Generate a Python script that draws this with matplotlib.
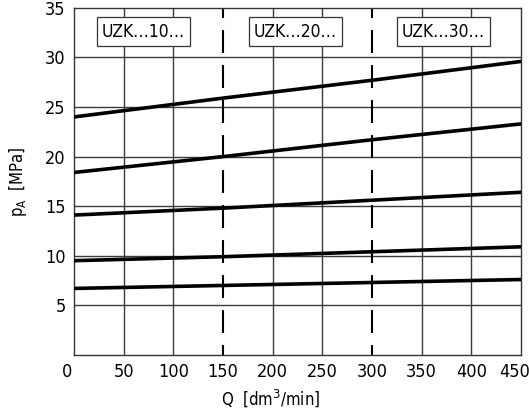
import matplotlib
matplotlib.use("Agg")
import matplotlib.pyplot as plt
import matplotlib.transforms as mtransforms
from matplotlib import font_manager as fm

q = [0, 150, 300, 450]
curves = [
    [24.0, 25.9, 27.7, 29.6],
    [18.4, 20.0, 21.7, 23.3],
    [14.1, 14.8, 15.6, 16.4],
    [9.5, 9.9, 10.4, 10.9],
    [6.7, 7.0, 7.3, 7.6],
]
dividers = [150, 300]
labels = ["UZK…10…", "UZK…20…", "UZK…30…"]
label_x = [70, 223, 372]
label_y = 32.6
xticks = [0, 50, 100, 150, 200, 250, 300, 350, 400, 450]
yticks = [5, 10, 15, 20, 25, 30, 35]

# condensed DejaVu Sans face
cond_file = None
for f in fm.fontManager.ttflist:
    if f.name == 'DejaVu Sans' and str(f.stretch) == 'condensed' \
            and f.style == 'normal' and f.weight in (400, 'normal'):
        cond_file = f.fname
        break
if cond_file:
    def fp(size):
        return fm.FontProperties(fname=cond_file, size=size)
else:
    def fp(size):
        return fm.FontProperties(family='DejaVu Sans', stretch='condensed', size=size)

fig = plt.figure(figsize=(5.29, 4.16), dpi=100)
ax = fig.add_axes([0.140, 0.147, 0.845, 0.834])
ax.set_xlim(0, 450)
ax.set_ylim(0, 35)
ax.set_xticks(xticks)
ax.set_yticks(yticks)
ax.tick_params(length=0, pad=6)
for lab in ax.get_xticklabels() + ax.get_yticklabels():
    lab.set_fontproperties(fp(13))

# grid: every tick except where the dashed dividers sit
for x in xticks:
    if x not in dividers and 0 < x < 450:
        ax.axvline(x, color='#3a3a3a', linewidth=1.0, zorder=0.5)
for y in yticks:
    if 0 < y < 35:
        ax.axhline(y, color='#3a3a3a', linewidth=1.0, zorder=0.5)
for s in ax.spines.values():
    s.set_color('#333333')
    s.set_linewidth(1.0)

for c in curves:
    ax.plot(q, c, color='black', linewidth=2.6, solid_capstyle='butt', zorder=3)

for d in dividers:
    ax.plot([d, d], [35, 0], color='black', linewidth=1.5,
            linestyle=(6.2, (11, 5.8)), solid_capstyle='butt', zorder=2)

for t, x in zip(labels, label_x):
    ax.text(x, label_y, t, ha='center', va='center', fontproperties=fp(12.5),
            bbox=dict(boxstyle='square,pad=0.3', facecolor='white',
                      edgecolor='#333333', linewidth=0.9), zorder=4)

xt = ax.get_xticklabels()
xt[-1].set_transform(xt[-1].get_transform() +
                     mtransforms.ScaledTranslation(-6 / 100, 0, fig.dpi_scale_trans))
xt[0].set_transform(xt[0].get_transform() +
                    mtransforms.ScaledTranslation(-7 / 100, 0, fig.dpi_scale_trans))

ax.set_xlabel(r"Q  [dm$^3$/min]", fontproperties=fp(12))
ax.xaxis.set_label_coords(0.44, -0.095)
ax.set_ylabel(r"p$_{\mathregular{A}}$  [MPa]", fontproperties=fp(12))
ax.yaxis.set_label_coords(-0.1, 0.5)

fig.savefig("out.png", dpi=100)
